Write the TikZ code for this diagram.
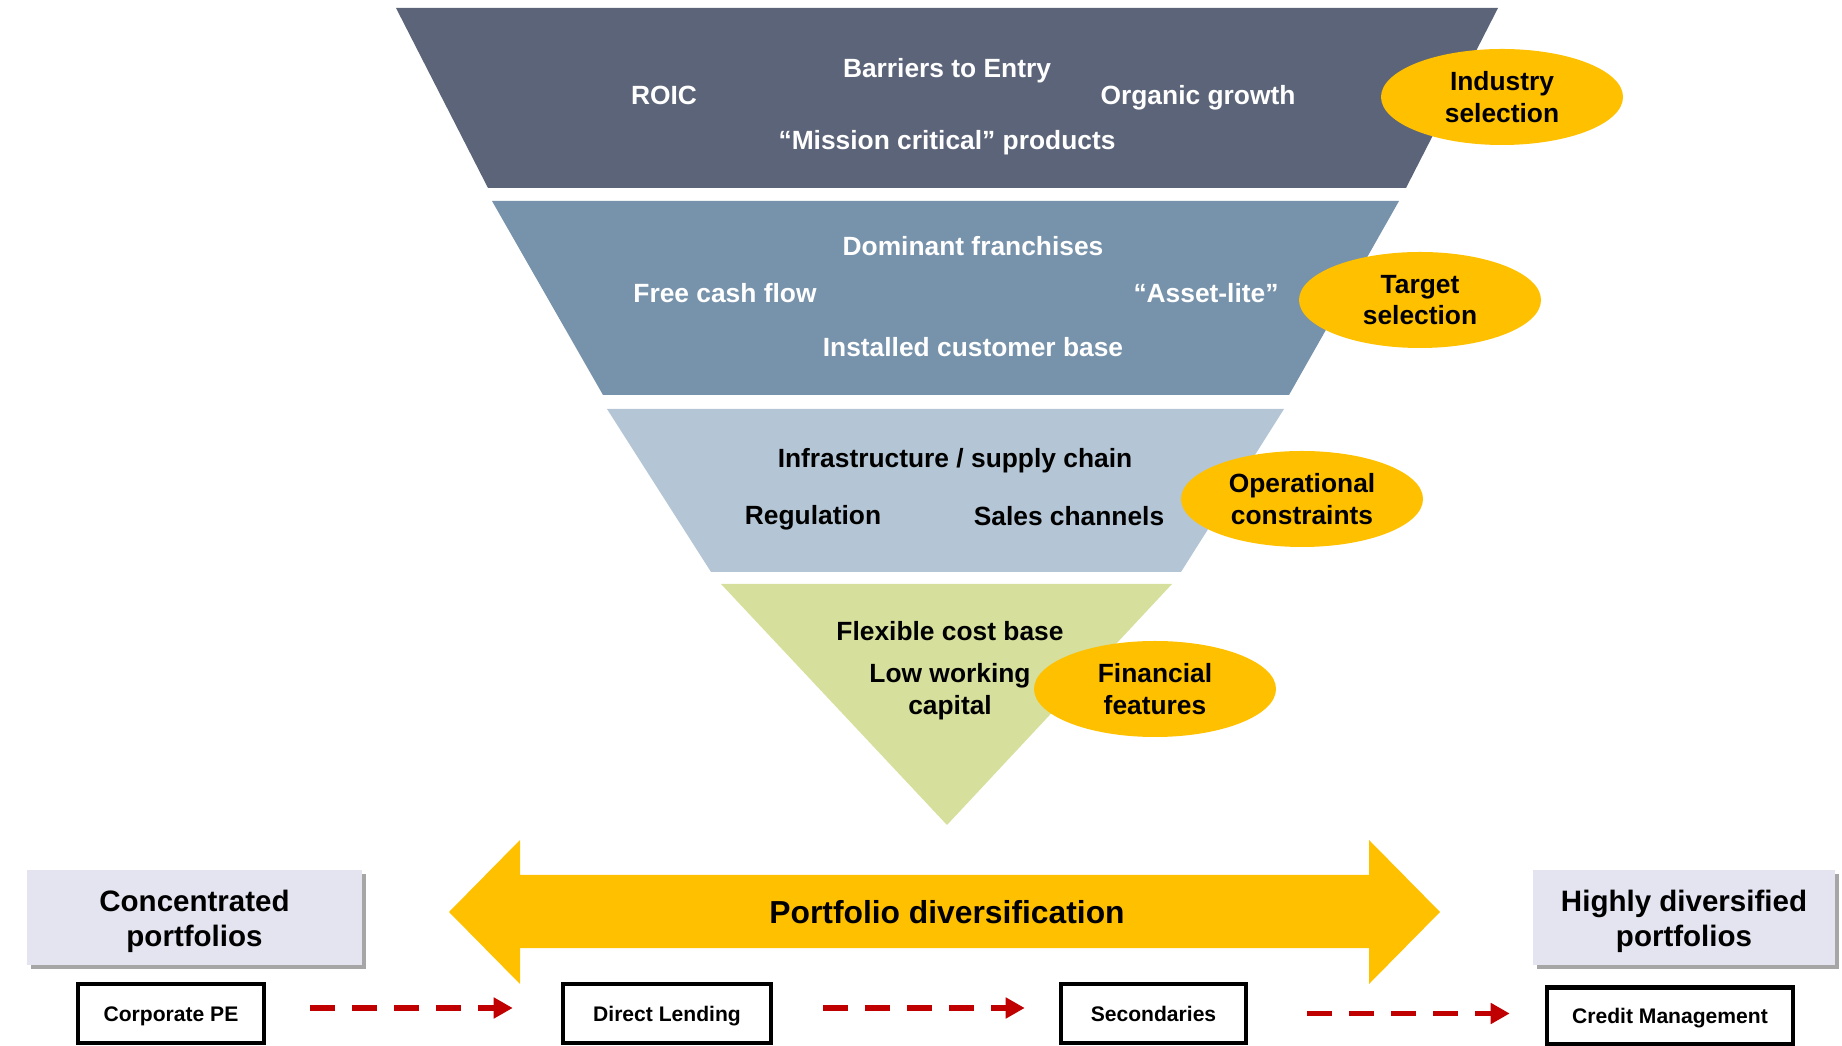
\documentclass[tikz,border=0pt]{standalone}
\usepackage{fontspec}
\setmainfont{Liberation Sans}
\usetikzlibrary{shapes.geometric, shadows, arrows.meta}

\definecolor{slate}{HTML}{5B6478}
\definecolor{steel}{HTML}{7792AB}
\definecolor{mist}{HTML}{B4C6D5}
\definecolor{sage}{HTML}{D6DF9B}
\definecolor{gold}{HTML}{FFC000}
\definecolor{flowred}{HTML}{C00000}
\definecolor{lavender}{HTML}{E4E4F0}

\tikzstyle{critfont}=[font=\bfseries\fontsize{7.5}{9}\selectfont, align=center]
\tikzstyle{crit}=[critfont, text=white, text height=5.4pt, text depth=0pt]
\tikzstyle{critdark}=[crit, text=black]
\tikzstyle{badge}=[ellipse, fill=gold, minimum width=2.42cm, minimum height=0.96cm,
                   inner sep=0pt, align=center, font=\bfseries\fontsize{7.5}{9}\selectfont]
\tikzstyle{endpanel}=[fill=lavender,
                      drop shadow={shadow xshift=0.035cm, shadow yshift=-0.04cm, fill=black, opacity=0.35}]
\tikzstyle{endtext}=[align=center, font=\bfseries\fontsize{8.4}{10}\selectfont]
\tikzstyle{vehicle}=[rectangle, draw=black, line width=1.3pt, fill=white,
                     text height=4.35pt, text depth=0pt,
                     minimum height=0.59cm, font=\bfseries\fontsize{6}{7}\selectfont]
\tikzstyle{flow}=[-{Triangle[length=0.19cm, width=0.2cm]}, draw=flowred, line width=1.7pt,
                  dash pattern=on 0.245cm off 0.175cm]

\begin{document}
\begin{tikzpicture}

\useasboundingbox (0,0) rectangle (18.42,10.45);

%%%%%%%%%%%%%%%%%%%%%%%%%%%%%%
% funnel

\fill[slate] (3.96,10.37) -- (14.98,10.37) -- (14.06,8.57) -- (4.88,8.57) -- cycle;
\fill[steel] (4.92,8.44) -- (13.99,8.44) -- (12.89,6.50) -- (6.03,6.50) -- cycle;
\fill[mist] (6.07,6.36) -- (12.84,6.36) -- (11.81,4.73) -- (7.11,4.73) -- cycle;
\fill[sage] (7.21,4.61) -- (11.72,4.61) -- (9.47,2.20) -- cycle;

% industry
\node (barriers) at (9.47, 9.77) [crit] {Barriers to Entry};
\node (roic) at (6.64, 9.50) [crit] {ROIC};
\node (organic) at (11.98, 9.50) [crit] {Organic growth};
\node (mission) at (9.47, 9.05) [crit] {``Mission critical'' products};

% target
\node (dominant) at (9.73, 7.99) [crit] {Dominant franchises};
\node (fcf) at (7.25, 7.52) [crit] {Free cash flow};
\node (assetlite) at (12.06, 7.52) [crit] {``Asset-lite''};
\node (installed) at (9.73, 6.98) [crit] {Installed customer base};

% operational
\node (infra) at (9.55, 5.87) [critdark] {Infrastructure / supply chain};
\node (regulation) at (8.13, 5.30) [critdark] {Regulation};
\node (sales) at (10.69, 5.29) [critdark] {Sales channels};

% financial
\node (flexible) at (9.50, 4.14) [critdark] {Flexible cost base};
\node (workcap) at (9.50, 3.535) [critfont] {Low working\\capital};

%%%%%%%%%%%%%%%%%%%%%%%%%%%%%%
% stages

\node (industry) at (15.02, 9.48) [badge] {Industry\\selection};
\node (target) at (14.20, 7.45) [badge] {Target\\selection};
\node (operational) at (13.02, 5.46) [badge] {Operational\\constraints};
\node (financial) at (11.55, 3.56) [badge] {Financial\\features};

%%%%%%%%%%%%%%%%%%%%%%%%%%%%%%
% diversification

\fill[gold] (4.49,1.33) -- (5.20,2.05) -- (5.20,1.70) -- (13.69,1.70) -- (13.69,2.05)
   -- (14.40,1.33) -- (13.69,0.61) -- (13.69,0.97) -- (5.20,0.97) -- (5.20,0.61) -- cycle;
\node (div) at (9.47, 1.33) [font=\bfseries\fontsize{9.05}{11}\selectfont] {Portfolio diversification};

\fill[endpanel] (0.27, 0.80) rectangle (3.62, 1.75);
\node (conc) at (1.945, 1.24) [endtext] {Concentrated\\portfolios};

\fill[endpanel] (15.33, 0.80) rectangle (18.35, 1.75);
\node (highdiv) at (16.84, 1.24) [endtext] {Highly diversified\\portfolios};

%%%%%%%%%%%%%%%%%%%%%%%%%%%%%%
% strategies

\node (cpe) at (1.71, 0.315) [vehicle, minimum width=1.86cm] {Corporate PE};
\node (dl) at (6.67, 0.315) [vehicle, minimum width=2.08cm] {Direct Lending};
\node (sec) at (11.535, 0.315) [vehicle, minimum width=1.85cm] {Secondaries};
\node (cm) at (16.70, 0.29) [vehicle, minimum width=2.46cm, minimum height=0.57cm] {Credit Management};

%%%%%%%%%%%%%%%%%%%%%%%%%%%%%%
% links

\draw [flow, shorten <=0.44cm, shorten >=0.48cm] ([yshift=0.055cm]cpe.east) to ([yshift=0.055cm]dl.west);
\draw [flow, shorten <=0.50cm, shorten >=0.34cm] ([yshift=0.055cm]dl.east) to ([yshift=0.055cm]sec.west);
\draw [flow, shorten <=0.59cm, shorten >=0.35cm] (sec.east) to (sec.east -| cm.west);

\end{tikzpicture}
\end{document}
